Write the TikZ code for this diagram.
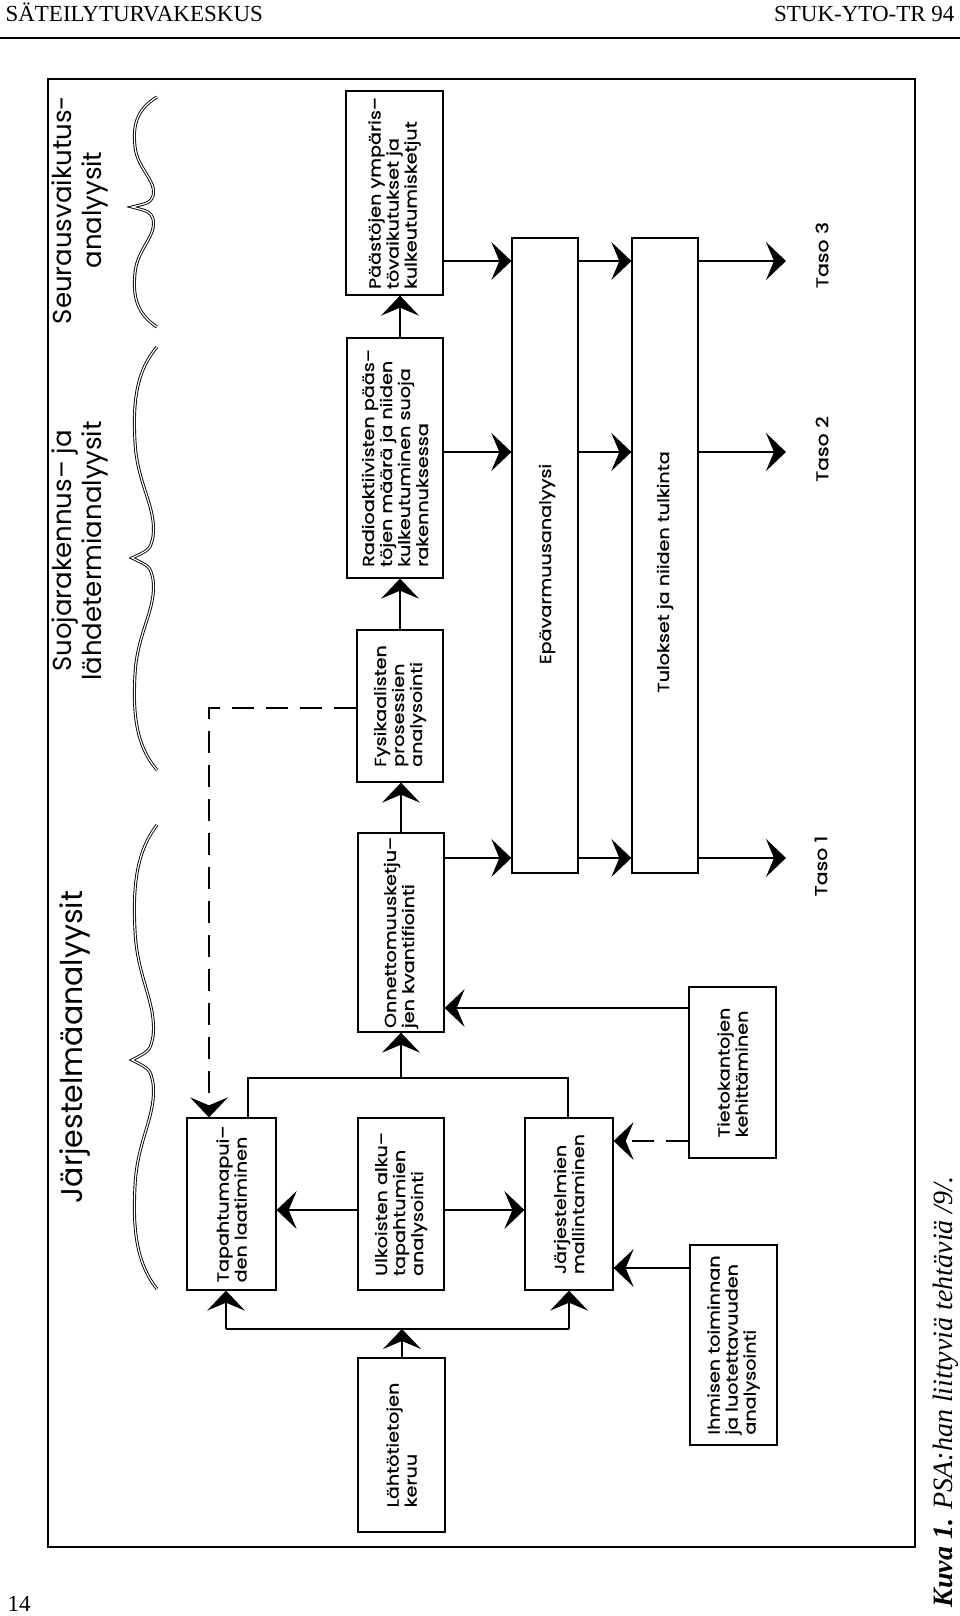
\documentclass[tikz,border=0pt]{standalone}
\usepackage{fontspec}
\setmainfont{Liberation Serif}
\newfontfamily\diafont{Poppins}
\newfontfamily\boxfont[FakeStretch=1.2,FakeBold=0.8]{Poppins}
\usetikzlibrary{arrows.meta,calc}
\tikzset{
  task/.style={draw, line width=1.3pt, rotate=90, inner sep=2pt, align=left,
               font=\boxfont\fontsize{16}{18}\selectfont},
  tallbox/.style={draw, line width=1.3pt, rotate=90, inner sep=0pt,
                  minimum width=635pt, minimum height=66pt},
  talltext/.style={rotate=90, font=\boxfont\fontsize{16}{18}\selectfont},
  flow/.style={line width=1.1pt, -{Stealth[length=20pt,width=38pt,inset=8pt]}},
  dflow/.style={flow, dash pattern=on 22pt off 12pt},
  wire/.style={line width=1.1pt},
  curly/.style={line width=0.9pt, double, double distance=1.2pt},
  grouplabel/.style={rotate=90, align=center, font=\diafont\fontsize{26}{30}\selectfont},
  levellabel/.style={rotate=90, font=\boxfont\fontsize{17}{19}\selectfont},
}

\begin{document}
\begin{tikzpicture}[x=1pt, y=-1pt]
  \useasboundingbox (0,0) rectangle (960,1616);
  % Page head and foot
  \node[anchor=base west, font=\fontsize{23}{25}\selectfont] (head) at (2,22) {SÄTEILYTURVAKESKUS};
  \node[anchor=base east, font=\fontsize{23}{25}\selectfont] (series) at (958,22) {STUK-YTO-TR 94};
  \draw[line width=1.8pt] (0,38) -- (960,38);
  \node[anchor=base west, font=\fontsize{23}{25}\selectfont] (pageno) at (4,1611) {14};
  \node[rotate=90, anchor=base west, font=\fontsize{28}{30}\selectfont\itshape] (caption)
        at (952,1611) {\textbf{Kuva 1.} PSA:han liittyviä tehtäviä /9/.};
  % Frame
  \draw[line width=1.8pt] (48,79) rectangle (915,1547);

  % Group braces and labels
  \foreach \ya/\ym/\yb in {97/207/327, 347/558/770, 825/1060/1289}{
    \pgfmathsetmacro{\la}{\ym-\ya}
    \pgfmathsetmacro{\lb}{\yb-\ym}
    \draw[curly] (157,\ya) .. controls (135,{\ya+0.12*\la}) and (133,{\ya+0.28*\la}) .. (135,{\ya+0.45*\la})
      .. controls (137,{\ya+0.65*\la}) and (157,{\ya+0.76*\la}) .. (153,{\ya+0.9*\la})
      .. controls (150,{\ya+0.96*\la}) .. (132,\ym)
      .. controls (150,{\ym+0.04*\lb}) .. (153,{\ym+0.1*\lb})
      .. controls (157,{\ym+0.24*\lb}) and (137,{\ym+0.35*\lb}) .. (135,{\ym+0.55*\lb})
      .. controls (133,{\ym+0.72*\lb}) and (135,{\ym+0.88*\lb}) .. (157,\yb);
  }
  \node[grouplabel] (seur) at (80,210) {Seurausvaikutus-\\analyysit};
  \node[grouplabel] (suoja) at (80,551) {Suojarakennus– ja\\lähdetermianalyysit};
  \node[grouplabel, font=\diafont\fontsize{30}{32}\selectfont] (jarjan) at (75,1047) {Järjestelmäanalyysit};

  % Task boxes
  \node[task, minimum width=204pt, minimum height=97pt] (paast) at (394.5,193)
        {Päästöjen ympäris–\\tövaikutukset ja\\kulkeutumisketjut};
  \node[task, minimum width=240pt, minimum height=96pt] (radio) at (395,458)
        {Radioaktiivisten pääs–\\töjen määrä ja niiden\\kulkeutuminen suoja\\rakennuksessa};
  \node[task, minimum width=152pt, minimum height=86pt] (fysik) at (400,706)
        {Fysikaalisten\\prosessien\\analysointi};
  \node[task, minimum width=199pt, minimum height=86pt] (onnet) at (401,932.5)
        {Onnettomuusketju–\\jen kvantifiointi};
  \node[task, minimum width=172pt, minimum height=89pt] (tapaht) at (231.5,1204)
        {Tapahtumapui–\\den laatiminen};
  \node[task, minimum width=172pt, minimum height=86pt] (ulkois) at (401,1204)
        {Ulkoisten alku–\\tapahtumien\\analysointi};
  \node[task, minimum width=172pt, minimum height=88pt] (jarj) at (569,1204)
        {Järjestelmien\\mallintaminen};
  \node[task, minimum width=174pt, minimum height=87pt] (lahto) at (401.5,1445)
        {Lähtötietojen\\keruu};
  \node[task, minimum width=171pt, minimum height=87pt] (tieto) at (732.5,1072.5)
        {Tietokantojen\\kehittäminen};
  \node[task, minimum width=200pt, minimum height=87pt] (ihmis) at (733.5,1345)
        {Ihmisen toiminnan\\ja luotettavuuden\\analysointi};
  \node[tallbox] (epav) at (545,555.5) {};
  \node[tallbox] (tulok) at (665,555.5) {};
  \node[talltext] (epavtext) at (547,564) {Epävarmuusanalyysi};
  \node[talltext] (tuloktext) at (665,572) {Tulokset ja niiden tulkinta};

  % Levels
  \node[levellabel] (taso3) at (822,255) {Taso 3};
  \node[levellabel] (taso2) at (822,449) {Taso 2};
  \node[levellabel] (taso1) at (821,866) {Taso 1};

  % Helper coordinates
  \coordinate (r3) at (0,261);
  \coordinate (r2) at (0,452);
  \coordinate (r1) at (0,858);
  \coordinate (out3) at (786,261);
  \coordinate (out2) at (786,452);
  \coordinate (out1) at (786,858);
  \coordinate (colA) at (400,0);
  \coordinate (dk) at (209,708);
  \coordinate (tj) at (248,1078);
  \coordinate (jj) at (568,1078);
  \coordinate (topjoin) at (401,1078);
  \coordinate (bl) at (226,1329);
  \coordinate (br) at (569,1329);
  \coordinate (bm) at (402,1329);
  \coordinate (u) at (0,1210);
  \coordinate (k) at (0,1008);
  \coordinate (d) at (0,1141);
  \coordinate (h) at (0,1268);

  % Chain of column A
  \draw[flow] (onnet.east) -- (onnet.east|-fysik.west);
  \draw[flow] (fysik.east) -- (fysik.east|-radio.west);
  \draw[flow] (radio.east-|colA) -- (paast.west-|colA);

  % Rows to the levels
  \draw[flow] (paast.south|-r3) -- (epav.north|-r3);
  \draw[flow] (epav.south|-r3) -- (tulok.north|-r3);
  \draw[flow] (tulok.south|-r3) -- (out3);
  \draw[flow] (radio.south|-r2) -- (epav.north|-r2);
  \draw[flow] (epav.south|-r2) -- (tulok.north|-r2);
  \draw[flow] (tulok.south|-r2) -- (out2);
  \draw[flow] (onnet.south|-r1) -- (epav.north|-r1);
  \draw[flow] (epav.south|-r1) -- (tulok.north|-r1);
  \draw[flow] (tulok.south|-r1) -- (out1);

  % Feedback to event trees
  \draw[dflow] (fysik.north|-dk) -- (dk) -- (tapaht.east-|dk);

  % System analysis block
  \draw[wire] (tapaht.east-|tj) -- (tj) -- (jj) -- (jarj.east-|jj);
  \draw[flow] (topjoin) -- (onnet.west-|topjoin);
  \draw[flow] (ulkois.north|-u) -- (tapaht.south|-u);
  \draw[flow] (ulkois.south|-u) -- (jarj.north|-u);
  \draw[flow] (lahto.east-|bm) -- (bm);
  \draw[wire] (bl) -- (br);
  \draw[flow] (bl) -- (tapaht.west-|bl);
  \draw[flow] (br) -- (jarj.west-|br);
  \draw[flow] (tieto.north|-k) -- (onnet.south|-k);
  \draw[dflow] (tieto.north|-d) -- (jarj.south|-d);
  \draw[flow] (ihmis.north|-h) -- (jarj.south|-h);
\end{tikzpicture}
\end{document}
